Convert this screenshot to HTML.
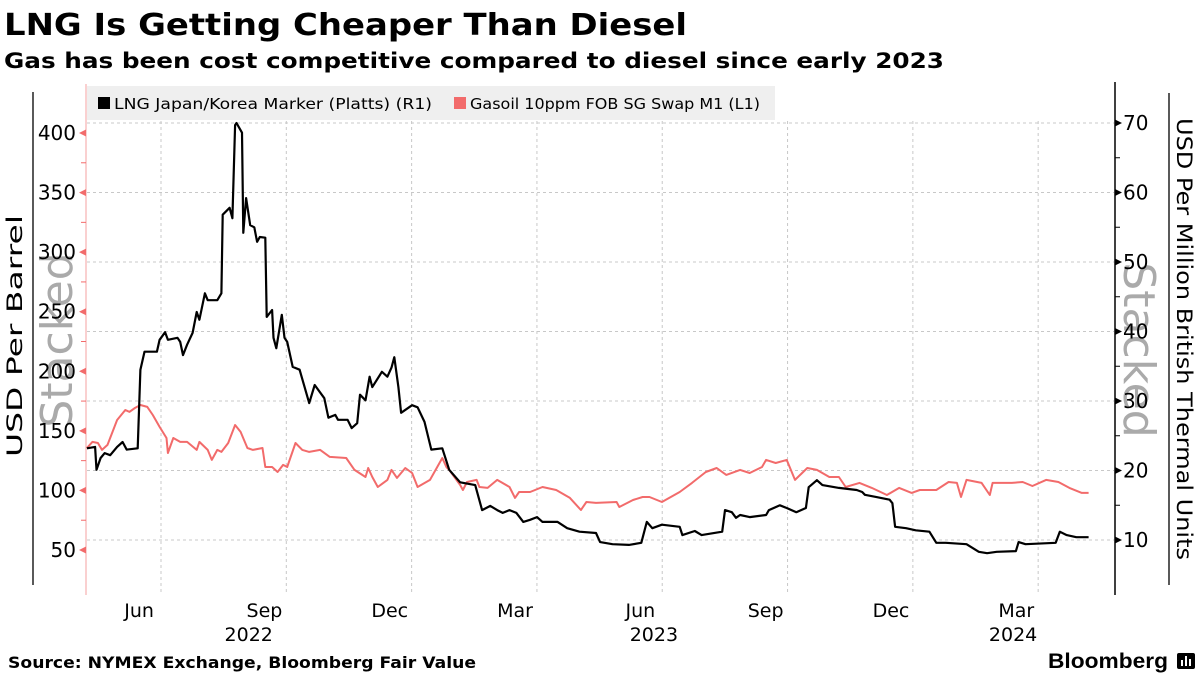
<!DOCTYPE html>
<html><head><meta charset="utf-8"><style>
html,body{margin:0;padding:0;background:#fff;}
svg{display:block;}
</style></head><body>
<svg id="chart" width="1200" height="675" viewBox="0 0 1200 675" xmlns="http://www.w3.org/2000/svg" font-family="'DejaVu Sans','Liberation Sans',sans-serif">
<text x="4" y="35" font-size="30" font-weight="bold" textLength="683" lengthAdjust="spacingAndGlyphs">LNG Is Getting Cheaper Than Diesel</text>
<text x="4" y="68" font-size="21" font-weight="bold" textLength="940" lengthAdjust="spacingAndGlyphs">Gas has been cost competitive compared to diesel since early 2023</text>
<g id="grid"></g>
<rect x="87" y="86" width="688" height="34" fill="#efefef"/>
<g><rect x="98" y="97" width="12" height="12" fill="#000"/><text x="114" y="109" font-size="15.5" textLength="318" lengthAdjust="spacingAndGlyphs">LNG Japan/Korea Marker (Platts) (R1)</text></g>
<g><rect x="454" y="97" width="12" height="12" fill="#f26b6b"/><text x="470" y="109" font-size="15.5" textLength="290" lengthAdjust="spacingAndGlyphs">Gasoil 10ppm FOB SG Swap M1 (L1)</text></g>
<line x1="86" y1="84" x2="86" y2="595" stroke="#f4a0a0" stroke-width="1"/>
<line x1="1115" y1="82" x2="1115" y2="595" stroke="#000" stroke-width="1.5"/>
<line x1="33" y1="92" x2="33" y2="585" stroke="#000" stroke-width="1.3"/>
<line x1="1169" y1="93" x2="1169" y2="585" stroke="#000" stroke-width="1.3"/>
<text transform="translate(72,340) rotate(-90)" text-anchor="middle" font-size="44" fill="#aaaaaa">Stacked</text>
<text transform="translate(1124,350) rotate(90)" text-anchor="middle" font-size="44" fill="#aaaaaa">Stacked</text>
<text transform="translate(22,336) rotate(-90)" text-anchor="middle" font-size="21" textLength="242" lengthAdjust="spacingAndGlyphs">USD Per Barrel</text>
<text transform="translate(1177,339) rotate(90)" text-anchor="middle" font-size="21" textLength="442" lengthAdjust="spacingAndGlyphs">USD Per Million British Thermal Units</text>
<g id="axes"></g>
<g id="series"></g>
<text x="8" y="668" font-size="16" font-weight="bold" textLength="468" lengthAdjust="spacingAndGlyphs">Source: NYMEX Exchange, Bloomberg Fair Value</text>
<text x="1048" y="668" font-size="21" font-weight="bold" font-family="'Liberation Sans',sans-serif" textLength="120" lengthAdjust="spacingAndGlyphs">Bloomberg</text>
<g><rect x="1177" y="653" width="18" height="16" rx="2" fill="#000"/><rect x="1181" y="660" width="2" height="6" fill="#fff"/><rect x="1185" y="656" width="2" height="10" fill="#fff"/><rect x="1189" y="659" width="2" height="7" fill="#fff"/></g>
</svg>
<script>
// ---- data ----
const lngDays = [-54,-48,-47,-44,-41,-37,-32,-28,-25,-17,-15,-12,-3,-1,3,5,12,14,16,19,23,26,28,32,34,41,44,45,50,52,54,55,59,60,62,65,68,70,72,76,77,81,82,84,88,90,92,96,101,108,112,119,122,127,129,136,139,143,145,149,152,154,161,165,168,170,173,175,183,187,192,197,205,210,218,229,234,240,245,249,254,259,264,269,274,278,289,296,305,317,320,329,341,350,354,358,365,378,380,389,394,409,411,416,419,422,429,441,443,451,456,463,470,472,478,482,494,507,511,513,521,531,533,535,543,550,560,565,572,587,596,602,609,623,625,630,652,655,660,667,676];
const lngValues = [23.2,23.4,20.1,21.8,22.5,22.2,23.4,24.1,23.0,23.2,34.5,37.1,37.1,38.8,39.9,38.8,39.1,38.5,36.6,38.1,39.8,42.8,41.7,45.5,44.5,44.5,45.5,56.8,57.8,56.3,69.7,70.0,68.6,54.2,59.2,55.3,55.0,52.9,53.6,53.5,42.1,43.1,39.1,37.6,42.4,39.1,38.5,34.9,34.5,29.7,32.3,30.4,27.6,28.0,27.3,27.3,26.1,26.8,30.9,30.1,33.5,32.0,34.2,33.5,34.8,36.3,32.0,28.3,29.4,29.1,27.0,23.0,23.2,20.1,18.3,17.9,14.3,14.9,14.3,13.9,14.3,13.9,12.6,12.9,13.3,12.6,12.6,11.7,11.2,11.0,9.7,9.4,9.3,9.6,12.6,11.7,12.2,11.9,10.7,11.3,10.7,11.2,14.3,14.0,13.2,13.6,13.3,13.6,14.3,15.0,14.6,14.0,14.6,17.6,18.6,17.9,17.5,17.2,16.9,16.5,16.2,15.8,15.3,11.9,11.7,11.4,11.2,9.6,9.6,9.4,8.3,8.1,8.3,8.4,9.7,9.4,9.6,11.2,10.7,10.4,10.4];
const gasDays = [-54,-50,-46,-43,-39,-32,-26,-23,-19,-15,-10,-6,-1,4,5,9,14,19,26,28,34,37,41,44,49,54,58,63,67,74,76,81,85,89,92,98,103,108,116,123,135,141,149,151,154,158,165,168,172,178,183,187,196,205,208,210,218,220,223,230,232,238,245,254,258,261,269,278,288,298,306,310,317,332,334,344,351,356,365,378,387,397,405,412,422,429,438,441,448,456,462,471,478,487,494,499,509,518,529,538,547,553,565,574,580,583,587,598,604,606,620,628,635,645,654,662,671,676];
const gasValues = [135.6,140.7,139.8,134.0,138.2,159.1,167.5,165.9,169.2,171.7,170.1,163.3,153.3,144.0,131.4,144.0,140.7,140.7,134.0,140.7,134.0,125.6,134.0,132.3,139.8,154.9,149.1,135.6,134.0,135.6,119.7,119.7,115.5,121.4,119.7,139.8,134.0,132.3,134.0,128.1,127.2,117.2,111.3,118.8,111.3,102.9,108.8,117.2,110.5,118.8,114.6,102.9,108.8,127.2,119.7,117.2,104.6,100.4,107.1,108.8,102.9,102.1,108.8,102.9,93.7,98.7,98.7,102.9,100.4,93.7,83.6,90.3,89.5,90.3,86.1,92.0,94.5,94.5,90.3,98.7,106.3,115.5,118.8,113.0,117.2,114.6,119.7,125.6,123.0,125.6,108.8,118.8,117.2,111.3,111.3,102.9,106.3,102.1,96.2,102.1,97.9,100.4,100.4,107.1,106.3,94.5,108.8,106.3,96.2,106.3,106.3,107.1,103.7,108.8,107.1,102.1,97.9,97.9];
const leftTicks = [50,100,150,200,250,300,350,400];
const leftMinorTicks = [75,125,175,225,275,325,375];
const rightTicks = [10,20,30,40,50,60,70];
const rightMinorTicks = [15,25,35,45,55,65];
const gridMonths = [0,3,6,9,12,15,18,21];   // months since Jul 2022 (quarter starts)
const monthLabels = ["Jun","Sep","Dec","Mar","Jun","Sep","Dec","Mar"];
const monthLabelOffsets = [-1,2,5,8,11,14,17,20]; // months since Jul 2022
const yearLabels = ["2022","2023","2024"];
const yearLabelMonths = [2.1,11.8,20.4];

// ---- scales ----
const PX_PER_DAY = 41.77/30.44;
const X0 = 161;
function xDay(d){ return X0 + d*PX_PER_DAY; }
function xMonth(m){ return X0 + m*41.77; }
function yLeft(v){ return 550 - (v-50)*(417/350); }
function yRight(v){ return 540 - (v-10)*6.95; }
const NS = "http://www.w3.org/2000/svg";
function mk(tag, attrs, parent){ const e=document.createElementNS(NS,tag); for(const k in attrs) e.setAttribute(k,attrs[k]); parent.appendChild(e); return e; }
const grid=document.getElementById('grid'), axes=document.getElementById('axes'), series=document.getElementById('series');

rightTicks.forEach(v=>{
  const l=mk('line',{x1:87,x2:1114,y1:yRight(v),y2:yRight(v),stroke:'#c8c8c8','stroke-dasharray':'3,3','stroke-width':1},grid);
  
  
  const p=mk('path',{d:`M${1115} ${yRight(v)-3.5} L${1122} ${yRight(v)} L${1115} ${yRight(v)+3.5}Z`,fill:'#000'},axes);
  
  
  const t=mk('text',{x:1123,y:yRight(v)+7,'font-size':20},axes); t.textContent=v;
  
  
});
rightMinorTicks.forEach(v=>{
  const l=mk('line',{x1:1115,x2:1120,y1:yRight(v),y2:yRight(v),stroke:'#000','stroke-width':1},axes);
  
  
});
gridMonths.forEach(m=>{
  const l=mk('line',{x1:xMonth(m),x2:xMonth(m),y1:121,y2:595,stroke:'#c8c8c8','stroke-dasharray':'3,3','stroke-width':1},grid);
  
  
});
leftTicks.forEach(v=>{
  const p=mk('path',{d:`M${86} ${yLeft(v)-3.5} L${79} ${yLeft(v)} L${86} ${yLeft(v)+3.5}Z`,fill:'#f26b6b'},axes);
  
  
  const t=mk('text',{x:76,y:yLeft(v)+7,'font-size':20,'text-anchor':'end'},axes); t.textContent=v;
  
  
});
leftMinorTicks.forEach(v=>{
  const l=mk('line',{x1:81,x2:86,y1:yLeft(v),y2:yLeft(v),stroke:'#f26b6b','stroke-width':1},axes);
  
  
});
monthLabels.forEach((s,i)=>{
  const t=mk('text',{x:xMonth(monthLabelOffsets[i]+0.5)-1,y:617,'font-size':19,'text-anchor':'middle'},axes); t.textContent=s;
  
  
});
yearLabels.forEach((s,i)=>{
  const t=mk('text',{x:xMonth(yearLabelMonths[i]),y:641,'font-size':19,'text-anchor':'middle'},axes); t.textContent=s;
  
  
});
const gasPath=mk('path',{d:gasDays.map((d,i)=>(i?'L':'M')+xDay(d).toFixed(1)+' '+yLeft(gasValues[i]).toFixed(1)).join(' '),fill:'none',stroke:'#f26b6b','stroke-width':2,'stroke-linejoin':'round'},series);


const lngPath=mk('path',{d:lngDays.map((d,i)=>(i?'L':'M')+xDay(d).toFixed(1)+' '+yRight(lngValues[i]).toFixed(1)).join(' '),fill:'none',stroke:'#000','stroke-width':2.2,'stroke-linejoin':'round'},series);


</script>
</body></html>
